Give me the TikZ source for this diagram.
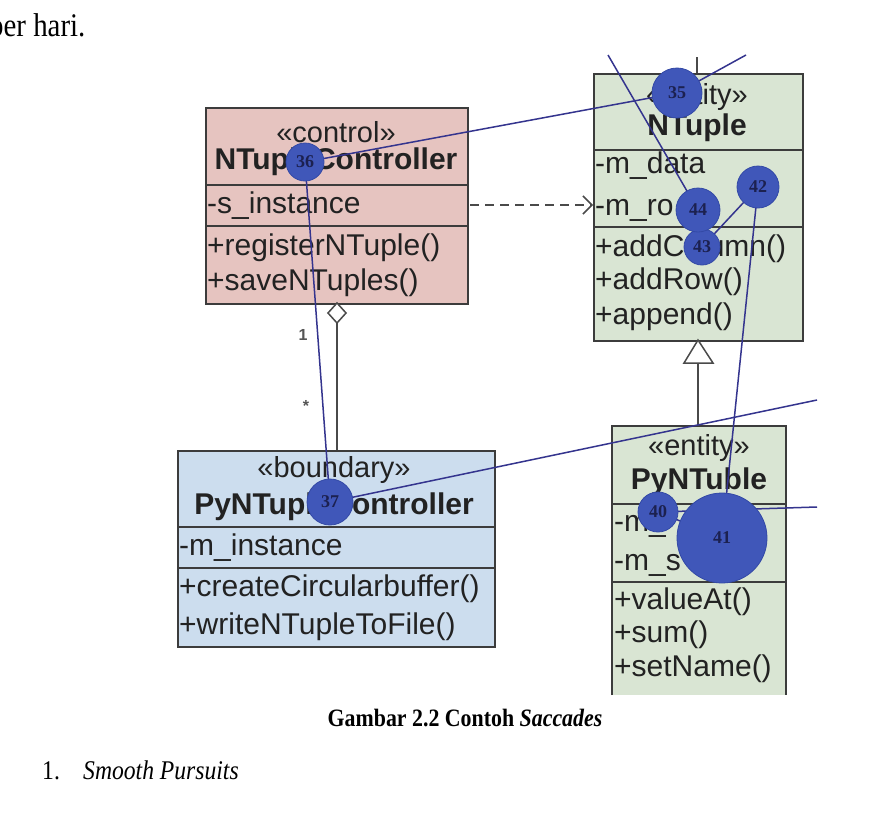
\documentclass[tikz,border=0pt]{standalone}
\usepackage{fontspec}
\setmainfont{Liberation Serif}
\setsansfont{Liberation Sans}
\usetikzlibrary{arrows.meta}

\newcommand{\fsz}[1]{\fontsize{#1}{#1}\selectfont}

\definecolor{boxline}{HTML}{3C3C3C}
\definecolor{textc}{HTML}{222222}
\definecolor{pinkc}{HTML}{E6C4C0}
\definecolor{greenc}{HTML}{D9E5D3}
\definecolor{bluec}{HTML}{CCDDEE}
\definecolor{fixfill}{HTML}{4057B9}
\definecolor{fixedge}{HTML}{3349A6}
\definecolor{fixtext}{HTML}{1C2150}
\definecolor{gazeline}{HTML}{34348E}
\definecolor{relline}{HTML}{4A4A4A}
\definecolor{multc}{HTML}{555555}

\begin{document}
\begin{tikzpicture}[x=1pt,y=-1pt,
  umlbox/.style={draw=boxline, line width=1.6pt, inner sep=0pt, anchor=north west},
  sepline/.style={draw=boxline, line width=1.6pt},
  stereo/.style={font=\sffamily\fsz{29}, text=textc, inner sep=0pt},
  cname/.style={font=\sffamily\bfseries\fsz{30}, text=textc, inner sep=0pt},
  member/.style={font=\sffamily\fsz{30}, text=textc, inner sep=0pt, anchor=west,
                 text height=22pt, text depth=6pt},
  fix/.style={circle, fill=fixfill, draw=fixedge, line width=0.8pt, inner sep=0pt,
              minimum size=#1, font=\bfseries\fsz{18}, text=fixtext},
  gaze/.style={draw=gazeline, line width=1.5pt},
  rel/.style={draw=relline, line width=1.5pt},
  mult/.style={font=\sffamily\bfseries\fsz{16}, text=multc, inner sep=0pt},
  pagetext/.style={inner sep=0pt, anchor=base west, text=black},
]
\useasboundingbox (0,0) rectangle (881,819);
\fill[white] (0,0) rectangle (881,819);

% ---------- surrounding page text ----------
\node[pagetext] (perhari) at (-11,36) {\scalebox{0.875}[1]{\fsz{33}per hari.}};
\node[inner sep=0pt, anchor=base] (caption) at (465,726)
  {\scalebox{0.875}[1]{\fsz{25}\bfseries Gambar 2.2 Contoh \textit{Saccades}}};
\node[pagetext] (itemno) at (42,779) {\scalebox{0.875}[1]{\fsz{27}1.}};
\node[pagetext] (itemtxt) at (83,779) {\scalebox{0.875}[1]{\fsz{27}\itshape Smooth Pursuits}};

% ---------- NTupleController (control) ----------
\node[umlbox, fill=pinkc, minimum width=262pt, minimum height=196pt] (ctrl) at (205,107) {};
\draw[sepline] (205,185) -- (467,185);
\draw[sepline] (205,226) -- (467,226);
\node[stereo] (ctrlst) at (336,132) {«control»};
\node[cname] (ctrlnm) at (336,162) {NTupleController};
\node[member] (ctrla1) at (207,205) {-s\_instance};
\node[member] (ctrlm1) at (207,247) {+registerNTuple()};
\node[member] (ctrlm2) at (207,282) {+saveNTuples()};

% ---------- NTuple (entity) ----------
\node[umlbox, fill=greenc, minimum width=209pt, minimum height=267pt] (ntup) at (593,73) {};
\draw[sepline] (593,150) -- (802,150);
\draw[sepline] (593,227) -- (802,227);
\node[stereo] (ntupst) at (697,97) {«entity»};
\node[cname] (ntupnm) at (697,128) {NTuple};
\node[member] (ntupa1) at (595,165) {-m\_data};
\node[member] (ntupa2) at (595,207) {-m\_ro};
\node[member] (ntupm1) at (595,248) {+addColumn()};
\node[member] (ntupm2) at (595,281) {+addRow()};
\node[member] (ntupm3) at (595,316) {+append()};
\coordinate (ntuptop) at (697,57);
\draw[rel] (ntup.north -| ntuptop) -- (ntuptop);

% ---------- PyNTuble (entity), cut off at the bottom ----------
\fill[greenc] (612,426) rectangle (786,695);
\draw[sepline] (612,695) -- (612,426) -- (786,426) -- (786,695);
\coordinate (pyntop) at (698,426);
\draw[sepline] (612,504) -- (786,504);
\draw[sepline] (612,582) -- (786,582);
\node[stereo] (pynst) at (699,448) {«entity»};
\node[cname] (pynnm) at (699,482) {PyNTuble};
\node[member] (pyna1) at (614,523) {-m\_};
\node[member] (pyna2) at (614,562) {-m\_s};
\node[member] (pynm1) at (614,601) {+valueAt()};
\node[member] (pynm2) at (614,634) {+sum()};
\node[member] (pynm3) at (614,668) {+setName()};

% ---------- PyNTupleController (boundary) ----------
\node[umlbox, fill=bluec, minimum width=317pt, minimum height=196pt] (bnd) at (177,450) {};
\draw[sepline] (177,527) -- (494,527);
\draw[sepline] (177,568) -- (494,568);
\node[stereo] (bndst) at (334,470) {«boundary»};
\node[cname] (bndnm) at (334,507) {PyNTupleController};
\node[member] (bnda1) at (179,547) {-m\_instance};
\node[member] (bndm1) at (179,588) {+createCircularbuffer()};
\node[member] (bndm2) at (179,626) {+writeNTupleToFile()};

% ---------- relations ----------
% aggregation
\coordinate (aggtop) at (337,303);
\coordinate (aggbot) at (337,450);
\draw[rel, fill=white] (aggtop) -- (346,313) -- (337,323) -- (328,313) -- cycle;
\draw[rel] (337,323) -- (aggbot);
\node[mult] (mone) at (303,335) {1};
\node[mult] (mmany) at (306,406) {*};
% dependency
\coordinate (depfrom) at (470,205);
\coordinate (depto) at (593,205);
\draw[rel, dash pattern=on 9pt off 6pt, -{Straight Barb[length=9pt,width=18pt,line width=1.5pt]}] (depfrom) -- (depto);
% generalization
\coordinate (genapex) at (698,340);
\draw[rel, fill=white] (genapex) -- (713,363) -- (684,363) -- cycle;
\draw[rel] (698,363) -- (pyntop);

% ---------- gaze path ----------
\coordinate (c35) at (677,93);
\coordinate (c36) at (305,162);
\coordinate (c37) at (330,502);
\coordinate (c40) at (658,512);
\coordinate (c41) at (722,538);
\coordinate (c42) at (758,187);
\coordinate (c43) at (702,247);
\coordinate (c44) at (698,210);
\coordinate (g34) at (746,55);
\coordinate (g38) at (817,400);
\coordinate (g39) at (817,507);
\coordinate (g45) at (608,55);

\draw[gaze] (g34) -- (c35) -- (c36) -- (c37) -- (g38);
\draw[gaze] (g39) -- (c40) -- (c41) -- (c42) -- (c43) -- (c44) -- (g45);

\node[fix=50pt] (f35) at (c35) {35};
\node[fix=38pt] (f36) at (c36) {36};
\node[fix=46pt] (f37) at (c37) {37};
\node[fix=40pt] (f40) at (c40) {40};
\node[fix=90pt] (f41) at (c41) {41};
\node[fix=42pt] (f42) at (c42) {42};
\node[fix=36pt] (f43) at (c43) {43};
\node[fix=44pt] (f44) at (c44) {44};
\end{tikzpicture}
\end{document}
